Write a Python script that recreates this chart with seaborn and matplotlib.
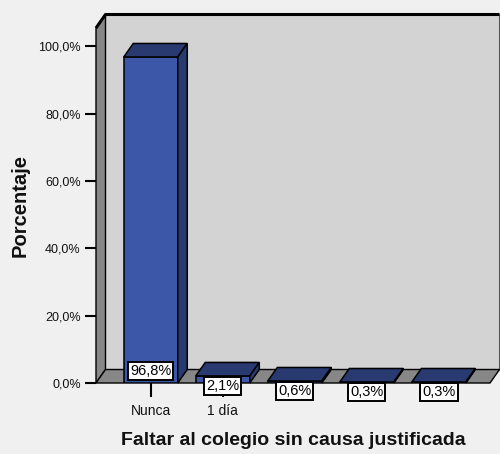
import matplotlib
matplotlib.use("Agg")
import matplotlib.pyplot as plt
from matplotlib.patches import Polygon
import numpy as np
import pandas as pd
import seaborn as sns

# ---- data ----
categories = ["Nunca", "1 día", "cat3", "cat4", "cat5"]
tick_labels = ["Nunca", "1 día", "", "", ""]
values = [96.8, 2.1, 0.6, 0.3, 0.3]
value_labels = ["96,8%", "2,1%", "0,6%", "0,3%", "0,3%"]
ytick_values = [0, 20, 40, 60, 80, 100]
ytick_labels = ["0,0%", "20,0%", "40,0%", "60,0%", "80,0%", "100,0%"]
xlabel = "Faltar al colegio sin causa justificada"
ylabel = "Porcentaje"

# ---- style ----
sns.set_theme(style="white")
plt.rcParams["font.family"] = ["Liberation Sans", "DejaVu Sans"]

BG = "#f0f0f0"
WALL = "#d3d3d3"
GRAY = "#878787"
FRONT = "#3d57a8"
DARK = "#283a6f"

W, H = 500, 454
fig = plt.figure(figsize=(W / 100, H / 100), dpi=100, facecolor=BG)
L, R, T, B = 96, 490, 28, 383
ax = fig.add_axes([L / W, (H - B) / H, (R - L) / W, (B - T) / H])
ax.patch.set_visible(False)

xmin, xmax = -0.76, 4.71
ymin, ymax = 0, 105.4
sx = (xmax - xmin) / (R - L)
sy = (ymax - ymin) / (B - T)
dx, dy = 9.5 * sx, 13.5 * sy

df = pd.DataFrame({"cat": categories, "pct": values})
sns.barplot(data=df, x="cat", y="pct", color=FRONT, saturation=1, width=0.75,
            edgecolor="black", linewidth=1.1, ax=ax, zorder=4)
bars = list(ax.patches)
ax.set_xlim(xmin, xmax)
ax.set_ylim(ymin, ymax)

# back wall
ax.add_patch(Polygon([(xmin + dx, dy), (xmax + dx, dy), (xmax + dx, ymax + dy), (xmin + dx, ymax + dy)],
                     closed=True, fc=WALL, ec="none", zorder=0, clip_on=False))
ax.plot([xmax + dx, xmax + dx], [dy, ymax + dy], color="#555555", lw=1.5, zorder=1, clip_on=False)
# left wall
ax.add_patch(Polygon([(xmin, 0), (xmin, ymax), (xmin + dx, ymax + dy), (xmin + dx, dy)],
                     closed=True, fc=GRAY, ec="black", lw=1.0, zorder=1, clip_on=False))
ax.plot([xmin, xmin + dx, xmax + dx], [ymax, ymax + dy, ymax + dy], color="black", lw=2.2,
        zorder=2, clip_on=False, solid_capstyle="butt")
# floor
ax.add_patch(Polygon([(xmin, 0), (xmax, 0), (xmax + dx, dy), (xmin + dx, dy)],
                     closed=True, fc=GRAY, ec="black", lw=1.0, zorder=2, clip_on=False))

# 3D faces of bars
for p in bars:
    x0, w, h = p.get_x(), p.get_width(), p.get_height()
    ax.add_patch(Polygon([(x0, h), (x0 + w, h), (x0 + w + dx, h + dy), (x0 + dx, h + dy)],
                         closed=True, fc=DARK, ec="black", lw=1.1, zorder=4, clip_on=False))
    ax.add_patch(Polygon([(x0 + w, 0), (x0 + w, h), (x0 + w + dx, h + dy), (x0 + w + dx, dy)],
                         closed=True, fc=DARK, ec="black", lw=1.1, zorder=4, clip_on=False))

# value labels
for p, v, lab in zip(bars, values, value_labels):
    xc = p.get_x() + p.get_width() / 2
    yc = 12 * sy if v > 10 else v - 10 * sy
    ax.text(xc, yc, lab, ha="center", va="center", fontsize=10.5, color="black", zorder=7,
            family=["Liberation Sans Narrow", "Liberation Sans", "DejaVu Sans"],
            bbox=dict(boxstyle="square,pad=0.14", fc="white", ec="black", lw=1.4), clip_on=False)

for s in ax.spines.values():
    s.set_visible(False)

ax.set_yticks(ytick_values)
ax.set_yticklabels(ytick_labels)
ax.set_xticks(range(len(categories)))
ax.set_xticklabels(tick_labels)
ax.tick_params(axis="y", left=True, length=8, width=1.5, color="black", pad=3,
               labelsize=9, labelcolor="#111111", direction="out")
ax.tick_params(axis="x", bottom=True, length=10, width=1.5, color="black", pad=5,
               labelsize=10, labelcolor="#111111", direction="out")

ax.set_xlabel(xlabel, fontsize=14, fontweight="bold", color="#111111", labelpad=10)
ax.set_ylabel(ylabel, fontsize=14.5, fontweight="bold", color="#111111", labelpad=6)

fig.savefig("out.png", dpi=100, facecolor=BG)
